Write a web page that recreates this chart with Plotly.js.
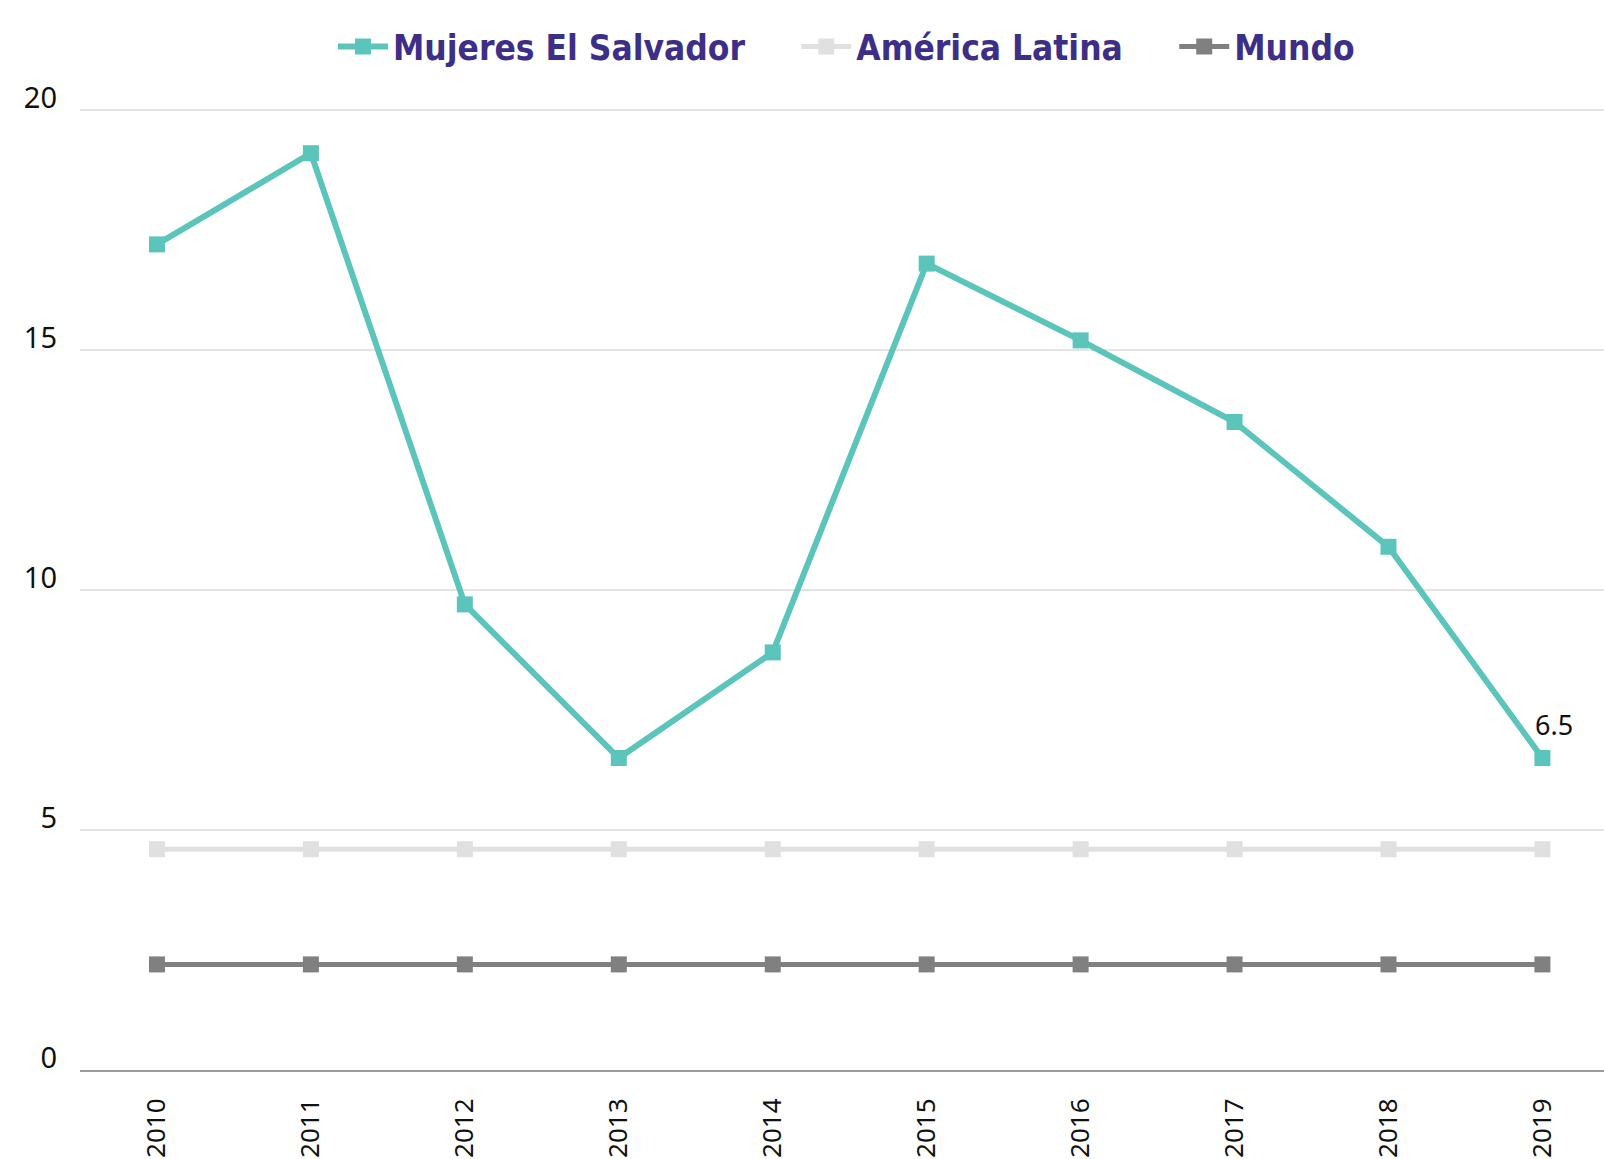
<!DOCTYPE html>
<html>
<head>
<meta charset="utf-8">
<script src="https://cdn.plot.ly/plotly-3.0.1.min.js"></script>
<style>html,body{margin:0;padding:0;background:#fff;}#chart{width:1604px;height:1159px;}</style>
</head>
<body>
<div id="chart"></div>
<script>
const years = ['2010','2011','2012','2013','2014','2015','2016','2017','2018','2019'];
const mujeresElSalvador = [17.2, 19.1, 9.7, 6.5, 8.7, 16.8, 15.2, 13.5, 10.9, 6.5];
const americaLatina = [4.6, 4.6, 4.6, 4.6, 4.6, 4.6, 4.6, 4.6, 4.6, 4.6];
const mundo = [2.2, 2.2, 2.2, 2.2, 2.2, 2.2, 2.2, 2.2, 2.2, 2.2];
const seriesNames = ['Mujeres El Salvador', 'América Latina', 'Mundo'];
const yTicks = [0, 5, 10, 15, 20];

const colors = ['#5bc5bc', '#e0e0e0', '#808080'];
const widths = [6, 5, 5];
const legendIds = ['legend', 'legend2', 'legend3'];
const legendX = [0.166, 0.470, 0.718];
const seriesData = [mujeresElSalvador, americaLatina, mundo];

const traces = seriesData.map((vals, i) => ({
  type: 'scatter',
  mode: 'lines+markers',
  name: seriesNames[i],
  legend: legendIds[i],
  x: years,
  y: vals,
  line: {color: colors[i], width: widths[i]},
  marker: {color: colors[i], size: 16, symbol: 'square'},
  hoverinfo: 'x+y'
}));

const last = years.length - 1;

const legendFont = {family: '"Liberation Sans Narrow", "DejaVu Sans Condensed", sans-serif', size: 35, color: '#3d2e87', weight: 'bold'};

const layout = {
  width: 1604,
  height: 1159,
  margin: {l: 80, r: 0, t: 86, b: 89},
  paper_bgcolor: '#ffffff',
  plot_bgcolor: '#ffffff',
  showlegend: true,
  xaxis: {
    type: 'category',
    range: [-0.5, 9.4],
    showgrid: false,
    zeroline: false,
    showline: true,
    linecolor: '#9a9a9a',
    linewidth: 2,
    ticks: '',
    tickangle: -90,
    tickfont: {family: '"Noto Sans", "Open Sans", sans-serif', size: 26, color: '#111111'},
    ticklabelstandoff: 16
  },
  yaxis: {
    range: [0, 20.5],
    tickvals: yTicks,
    ticktext: yTicks.map(String),
    showgrid: true,
    gridcolor: '#e4e4e4',
    gridwidth: 2,
    zeroline: false,
    showline: false,
    ticks: '',
    tickfont: {family: '"Noto Sans", "Open Sans", sans-serif', size: 29, color: '#111111'},
    ticklabelstandoff: 22,
    ticklabelshift: -12
  },
  annotations: [{
    x: last,
    y: mujeresElSalvador[last],
    xref: 'x', yref: 'y',
    text: String(mujeresElSalvador[last]),
    showarrow: false,
    xshift: 12,
    yshift: 34,
    font: {family: '"Noto Sans", "Open Sans", sans-serif', size: 27, color: '#111111'}
  }]
};

legendIds.forEach((id, i) => {
  layout[id] = {
    orientation: 'h',
    x: legendX[i], xanchor: 'left',
    y: 1.04, yanchor: 'middle',
    font: legendFont,
    itemwidth: 50,
    bgcolor: 'rgba(0,0,0,0)'
  };
});

Plotly.newPlot('chart', traces, layout, {displayModeBar: false, staticPlot: true});
</script>
</body>
</html>
